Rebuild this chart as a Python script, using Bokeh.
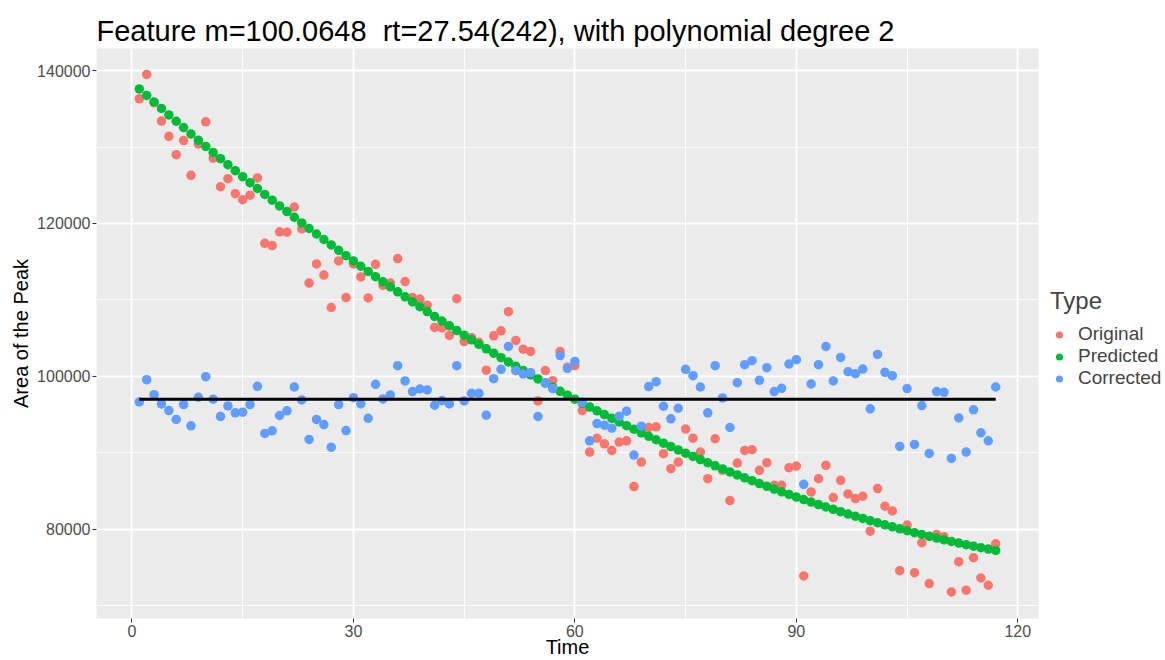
from bokeh.plotting import figure
from bokeh.layouts import row
from bokeh.models import (FixedTicker, Legend, LegendItem, Range1d,
                          NumeralTickFormatter, ColumnDataSource)
from bokeh.embed import file_html
from bokeh.resources import INLINE

# ---------------- data ----------------
time = list(range(1, 118))

original = [
    136300, 139500, 135800, 133400, 131400, 129000, 130850, 126300, 130400, 133300,
    128550, 124800, 125850, 123900, 123100, 123700, 125950, 117400, 117100, 118900,
    118850, 122150, 119300, 112200, 114700, 113250, 109000, 115100, 110300, 114700,
    113000, 110250, 114650, 111900, 112200, 115400, 112400, 110300, 110100, 109300,
    106400, 106350, 105350, 110150, 104550, 105050, 104450, 100800, 105300, 105950,
    108450, 104700, 103550, 103250, 96780, 100750, 99430, 103250, 101200, 101400,
    95520, 90090, 91910, 91170, 90300, 91390, 91560, 85570, 88780, 93300,
    93390, 89870, 87910, 88780, 93090, 91910, 90090, 86610, 91830, 87700,
    83740, 88650, 90300, 90390, 87700, 88700, 85740, 85740, 88040, 88260,
    73880, 84870, 86610, 88350, 84130, 86390, 84610, 84000, 84310, 79740,
    85310, 83000, 82390, 74570, 80530, 74310, 78220, 72880, 79310, 79000,
    71790, 75750, 72010, 76270, 73620, 72660, 78090,
]

predicted = [
    137600, 136740, 135890, 135040, 134200, 133370, 132540, 131710, 130900, 130080,
    129280, 128480, 127690, 126900, 126120, 125340, 124570, 123800, 123050, 122290,
    121550, 120810, 120070, 119340, 118620, 117900, 117190, 116480, 115780, 115090,
    114400, 113720, 113040, 112370, 111710, 111050, 110400, 109750, 109110, 108470,
    107840, 107220, 106600, 105990, 105380, 104780, 104190, 103600, 103020, 102440,
    101870, 101310, 100750, 100200, 99650, 99110, 98570, 98040, 97520, 97000,
    96490, 95980, 95480, 94990, 94500, 94020, 93540, 93070, 92610, 92150,
    91700, 91250, 90810, 90370, 89940, 89520, 89100, 88690, 88280, 87880,
    87490, 87100, 86720, 86340, 85970, 85610, 85250, 84890, 84550, 84200,
    83870, 83540, 83220, 82900, 82590, 82280, 81980, 81690, 81400, 81110,
    80840, 80570, 80300, 80040, 79790, 79540, 79300, 79060, 78830, 78610,
    78390, 78180, 77970, 77770, 77580, 77390, 77210,
]

corrected = [
    96650, 99560, 97600, 96390, 95520, 94350, 96300, 93520, 97260, 99950,
    97000, 94740, 96130, 95220, 95300, 96300, 98690, 92520, 92870, 94870,
    95480, 98600, 96910, 91740, 94350, 93690, 90720, 96300, 92900, 97200,
    96400, 94500, 98950, 97040, 97560, 101390, 99390, 98000, 98340, 98210,
    96210, 96820, 96390, 101390, 96780, 97780, 97780, 94910, 99690, 100910,
    103910, 100730, 100300, 100470, 94740, 99170, 98390, 102710, 101040, 101950,
    96600, 91560, 93820, 93600, 93220, 94780, 95430, 89700, 93480, 98650,
    99300, 96080, 94430, 95820, 100910, 100080, 98600, 95220, 101390, 97170,
    93300, 99170, 101520, 102040, 99470, 101130, 98000, 98430, 101600, 102170,
    85870, 99000, 101520, 103910, 99390, 102470, 100600, 100340, 100950, 95740,
    102860, 100520, 100080, 90830, 98390, 91090, 96170, 89910, 98000, 97910,
    89260, 94560, 90090, 95610, 92610, 91560, 98600,
]

mean_level = 97000

x_ticks = [0, 30, 60, 90, 120]
x_minor = [15, 45, 75, 105]
y_ticks = [80000, 100000, 120000, 140000]
y_minor = [70000, 90000, 110000, 130000]

series_names = ["Original", "Predicted", "Corrected"]
series_colors = ["#F8766D", "#00BA38", "#619CFF"]

title_text = "Feature m=100.0648\u00a0 rt=27.54(242), with polynomial degree 2"
FONT = "Liberation Sans"
POINT_SIZE = 9.5

# ---------------- main figure ----------------
p = figure(width=1045, height=660, output_backend="svg", toolbar_location=None,
           title=title_text,
           x_range=Range1d(-4.8, 122.8), y_range=Range1d(68310, 142890),
           min_border_left=96, min_border_right=7,
           min_border_top=48, min_border_bottom=40)

p.title.text_font = FONT
p.title.text_font_size = "29px"
p.title.text_font_style = "normal"
p.title.text_color = "black"
p.title.align = "left"
p.title.offset = 0
p.title.standoff = 3

p.background_fill_color = "#EBEBEB"
p.border_fill_color = "white"
p.outline_line_color = None

p.xaxis.ticker = FixedTicker(ticks=x_ticks, minor_ticks=x_minor)
p.yaxis.ticker = FixedTicker(ticks=y_ticks, minor_ticks=y_minor)
p.yaxis.formatter = NumeralTickFormatter(format="0")

for ax in (p.xaxis, p.yaxis):
    ax.axis_line_color = None
    ax.major_tick_line_color = "#333333"
    ax.major_tick_line_width = 1
    ax.major_tick_out = 4
    ax.major_tick_in = 0
    ax.minor_tick_line_color = None
    ax.major_label_text_font = FONT
    ax.major_label_text_font_size = "16px"
    ax.major_label_text_color = "#4D4D4D"
    ax.major_label_standoff = 2
    ax.axis_label_text_font = FONT
    ax.axis_label_text_font_size = "20px"
    ax.axis_label_text_font_style = "normal"
    ax.axis_label_text_color = "black"

p.xaxis.axis_label = "Time"
p.xaxis.axis_label_standoff = -4
p.yaxis.axis_label = "Area of the Peak"
p.yaxis.axis_label_standoff = 2

for g in (p.xgrid, p.ygrid):
    g.grid_line_color = "white"
    g.grid_line_width = 1.8
    g.minor_grid_line_color = "white"
    g.minor_grid_line_width = 0.9

values = [original, predicted, corrected]
for name, col, vals in zip(series_names, series_colors, values):
    src = ColumnDataSource(dict(x=time, y=vals))
    p.scatter("x", "y", source=src, size=POINT_SIZE, fill_color=col, line_color=None)

p.line(x=[time[0], time[-1]], y=[mean_level, mean_level], line_color="black", line_width=3)

# ---------------- legend panel ----------------
lg = figure(width=120, height=660, output_backend="svg", toolbar_location=None,
            x_range=Range1d(0, 1), y_range=Range1d(0, 1),
            x_axis_type=None, y_axis_type=None,
            min_border_left=0, min_border_right=0, min_border_top=0, min_border_bottom=0)
lg.outline_line_color = None
lg.background_fill_color = "white"
lg.border_fill_color = "white"
lg.xgrid.visible = False
lg.ygrid.visible = False

# key glyphs: one point each, placed outside the visible range of the legend panel
key_renderers = []
for name, col in zip(series_names, series_colors):
    key_renderers.append(lg.scatter(x=[-5], y=[-5], size=POINT_SIZE,
                                    fill_color=col, line_color=None))

legend = Legend(
    items=[LegendItem(label=n, renderers=[r]) for n, r in zip(series_names, key_renderers)],
    location=(5, 229), title="Type",
    title_text_font=FONT, title_text_font_size="24px", title_text_font_style="normal",
    title_standoff=8,
    label_text_font=FONT, label_text_font_size="19px",
    label_text_line_height=0.9,
    glyph_width=18, glyph_height=19, label_height=19, label_standoff=10,
    spacing=0, padding=0, margin=0,
    background_fill_alpha=0, border_line_color=None,
)
lg.add_layout(legend)

layout = row(p, lg, spacing=0)
open("out.html", "w").write(file_html(layout, INLINE))
